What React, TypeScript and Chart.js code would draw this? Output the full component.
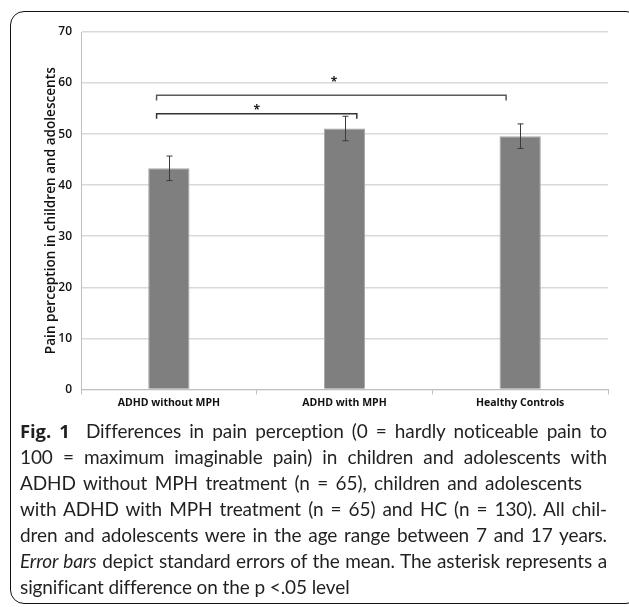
import React, { useEffect, useRef } from "react";
import { Chart, registerables } from "chart.js";

Chart.register(...registerables);

// ---- data ----
const categories = ["ADHD without MPH", "ADHD with MPH", "Healthy Controls"];
const means = [43.3, 51.1, 49.6];
const stdErrors = [2.4, 2.4, 2.4];
const yMin = 0;
const yMax = 70;
const yStep = 10;

// significance brackets (x in category units, y in value units)
const bracketStartX = [-0.07, -0.07];
const bracketEndX = [1.07, 1.92];
const bracketLevel = [54.0, 57.6];
const bracketDrop = [1.0, 1.0];
const starX = [0.5, 0.94];
const starY = [55.1, 60.6];
const starText = ["*", "*"];

const captionLines = [
  "Differences in pain perception (0 = hardly noticeable pain to",
  "100 = maximum imaginable pain) in children and adolescents with",
  "ADHD without MPH treatment (n = 65), children and adolescents",
  "with ADHD with MPH treatment (n = 65) and HC (n = 130). All chil-",
  "dren and adolescents were in the age range between 7 and 17 years.",
  " depict standard errors of the mean. The asterisk represents a",
  "significant difference on the p <.05 level",
];

const annotationPlugin = {
  id: "annotations",
  afterDatasetsDraw(chart: any) {
    const ctx = chart.ctx;
    const xs = chart.scales.x;
    const ys = chart.scales.y;
    ctx.save();
    // error bars
    ctx.strokeStyle = "#3a3a3a";
    ctx.lineWidth = 1;
    means.forEach((m, i) => {
      const x = Math.round(xs.getPixelForValue(i)) + 0.5;
      const yt = ys.getPixelForValue(m + stdErrors[i]);
      const yb = ys.getPixelForValue(m - stdErrors[i]);
      ctx.beginPath();
      ctx.moveTo(x, yt);
      ctx.lineTo(x, yb);
      ctx.moveTo(x - 3, yt);
      ctx.lineTo(x + 3, yt);
      ctx.moveTo(x - 3, yb);
      ctx.lineTo(x + 3, yb);
      ctx.stroke();
    });
    // brackets
    ctx.lineWidth = 1.5;
    bracketLevel.forEach((lv, i) => {
      const x1 = xs.getPixelForValue(bracketStartX[i]);
      const x2 = xs.getPixelForValue(bracketEndX[i]);
      const y = ys.getPixelForValue(lv);
      const yd = ys.getPixelForValue(lv - bracketDrop[i]);
      ctx.strokeStyle = i === 0 ? "#333333" : "#5a5a5a";
      ctx.beginPath();
      ctx.moveTo(x1, yd);
      ctx.lineTo(x1, y);
      ctx.lineTo(x2, y);
      ctx.lineTo(x2, yd);
      ctx.stroke();
    });
    // asterisks
    ctx.fillStyle = "#222222";
    ctx.font = "bold 12px 'Open Sans'";
    ctx.textAlign = "center";
    ctx.textBaseline = "middle";
    starText.forEach((t, i) => {
      ctx.fillText(t, xs.getPixelForValue(starX[i]), ys.getPixelForValue(starY[i]) + 3);
    });
    ctx.restore();
  },
};

function BarChart() {
  const ref = useRef<HTMLCanvasElement | null>(null);
  useEffect(() => {
    if (!ref.current) return;
    const chart = new Chart(ref.current, {
      type: "bar",
      data: {
        labels: categories,
        datasets: [
          {
            data: means,
            backgroundColor: "#7f7f7f",
            borderColor: "#a6a6a6",
            borderWidth: 1,
            barPercentage: 1,
            categoryPercentage: 0.235,
          },
        ],
      },
      options: {
        animation: false,
        responsive: true,
        maintainAspectRatio: false,
        layout: { padding: { left: 30.5, top: 20, right: 16, bottom: 11 } },
        plugins: {
          legend: { display: false },
          tooltip: { enabled: false },
        },
        scales: {
          x: {
            offset: true,
            grid: {
              display: true,
              offset: true,
              drawOnChartArea: false,
              tickLength: 5,
              color: "#bfbfbf",
            },
            border: { color: "#bfbfbf", width: 1 },
            ticks: {
              color: "#111111",
              font: { family: "'Open Sans'", size: 10.5, weight: "bold" },
              padding: 2,
            },
          },
          y: {
            min: yMin,
            max: yMax,
            ticks: {
              stepSize: yStep,
              color: "#111111",
              font: { family: "'Open Sans'", size: 12, weight: "600" },
              padding: 9,
            },
            grid: { color: "#d9d9d9", lineWidth: 1.5, tickLength: 0 },
            border: { color: "#bfbfbf", width: 1 },
            title: {
              display: true,
              text: "Pain perception in children and adolescents",
              color: "#111111",
              font: { family: "'Open Sans'", size: 13.6, weight: "600" },
              padding: { top: 0, bottom: -9.5 },
            },
          },
        },
      },
      plugins: [annotationPlugin],
    });
    return () => chart.destroy();
  }, []);
  return <canvas ref={ref} />;
}

export default function App() {
  const lineStyle: React.CSSProperties = {
    whiteSpace: "nowrap",
    height: 26,
    lineHeight: "26px",
  };
  const justified: React.CSSProperties = {
    ...lineStyle,
    whiteSpace: "normal",
    textAlign: "justify",
    textAlignLast: "justify" as any,
  };
  return (
    <div
      style={{
        position: "absolute",
        left: 0,
        top: 0,
        width: 629,
        height: 607,
        overflow: "hidden",
        background: "#ffffff",
      }}
    >
      <div
        style={{
          position: "absolute",
          left: 10,
          top: 11,
          width: 630,
          height: 593,
          border: "1.5px solid #111",
          borderRadius: 14,
          boxSizing: "border-box",
        }}
      />
      <div style={{ position: "absolute", left: 12, top: 12, width: 612, height: 410 }}>
        <BarChart />
      </div>
      <div
        style={{
          position: "absolute",
          left: 20,
          top: 418,
          width: 587,
          fontFamily: "Lato, 'Open Sans', sans-serif",
          fontSize: 19,
          letterSpacing: "-0.1px",
          color: "#231f20",
        }}
      >
        <div style={justified}>
          <b style={{ fontFamily: "'Open Sans'", fontSize: 18.5 }}>Fig. 1</b>
          {"\u00a0\u00a0"}
          {captionLines[0]}
        </div>
        <div style={justified}>{captionLines[1]}</div>
        <div style={{ ...justified, width: 562 }}>{captionLines[2]}</div>
        <div style={justified}>{captionLines[3]}</div>
        <div style={justified}>{captionLines[4]}</div>
        <div style={justified}>
          <i>Error bars</i>
          {captionLines[5]}
        </div>
        <div style={lineStyle}>{captionLines[6]}</div>
      </div>
    </div>
  );
}
